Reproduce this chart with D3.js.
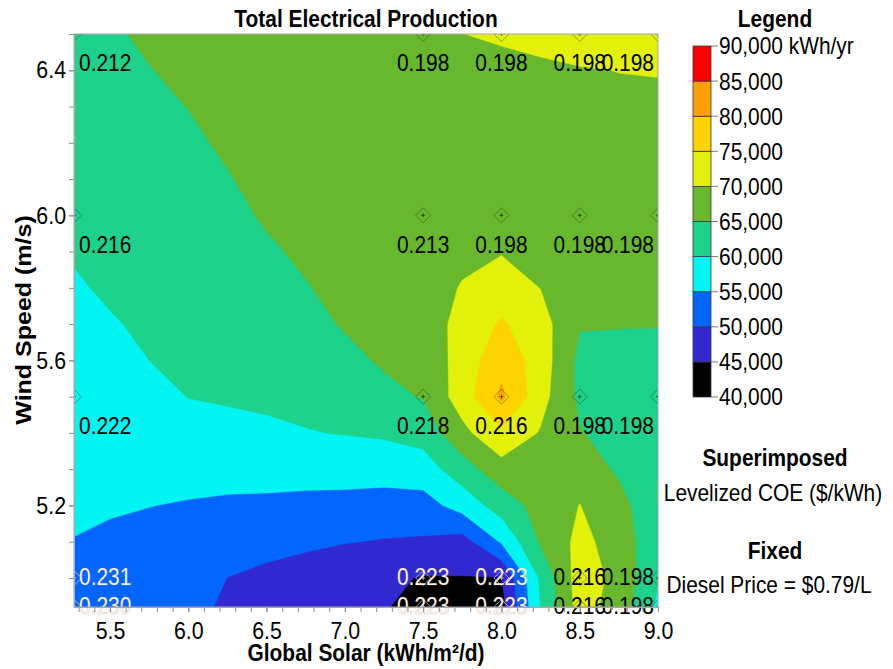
<!DOCTYPE html>
<html>
<head>
<meta charset="utf-8">
<script src="https://cdn.jsdelivr.net/npm/d3@7"></script>
<style>
  body { margin: 0; background: #fff; }
  text { font-family: "Liberation Sans", Arial, sans-serif; }
</style>
</head>
<body>
<svg id="chart" width="893" height="669"></svg>
<script>
// Sampling grid of the production surface
const solarGrid = [5.27, 5.5, 5.75, 6.0, 6.25, 6.5, 6.75, 7.0, 7.25, 7.5, 7.75, 8.0, 8.25, 8.5, 8.75, 9.0];
const windGrid = [4.92, 5.0, 5.1, 5.2, 5.3, 5.4, 5.5, 5.6, 5.7, 5.8, 5.9, 6.0, 6.1, 6.2, 6.3, 6.4, 6.5];

// Total electrical production (thousand kWh/yr); one row per wind speed (low to high),
// one column per global solar value
const production = [
  [53.0, 52.6, 51.6, 51.5, 49.2, 47.0, 46.0, 45.8, 45.3, 43.5, 43.5, 43.3, 60.0, 72.0, 68.0, 59.0],
  [53.8, 53.5, 52.6, 52.1, 49.95, 48.9, 47.9, 46.8, 45.9, 44.7, 44.8, 44.8, 60.8, 72.5, 68.6, 60.4],
  [54.9, 54.4, 53.8, 53.4, 52.1, 51.5, 50.85, 50.2, 49.7, 49.4, 48.0, 55.5, 65.5, 71.4, 67.8, 61.2],
  [55.6, 55.35, 55.07, 54.7, 54.3, 54.1, 53.8, 53.5, 53.2, 53.0, 57.0, 62.3, 66.8, 70.1, 66.5, 61.6],
  [56.3, 56.2, 56.3, 56.5, 56.6, 56.7, 56.7, 56.9, 56.8, 57.7, 62.7, 67.9, 68.0, 67.5, 64.3, 61.8],
  [56.9, 57.1, 57.5, 58.35, 58.9, 59.3, 59.8, 60.2, 60.7, 61.9, 68.6, 74.2, 69.6, 65.3, 63.0, 61.9],
  [57.6, 58.0, 58.8, 60.07, 60.4, 60.7, 61.15, 61.9, 63.7, 65.3, 72.5, 80.9, 71.8, 64.0, 62.5, 62.0],
  [58.3, 58.85, 60.0, 60.7, 61.1, 61.7, 62.4, 63.7, 65.6, 66.5, 72.0, 78.5, 72.6, 63.8, 63.0, 62.5],
  [58.9, 59.7, 60.6, 61.3, 61.85, 62.6, 63.6, 65.4, 66.2, 67.3, 71.6, 75.6, 72.0, 65.3, 65.3, 65.3],
  [59.6, 60.5, 61.2, 61.9, 62.6, 63.5, 64.8, 66.0, 66.8, 67.8, 70.3, 72.5, 69.9, 66.5, 66.5, 66.3],
  [60.3, 61.1, 61.8, 62.55, 63.3, 64.5, 65.6, 66.6, 67.3, 68.2, 68.9, 69.7, 68.6, 67.3, 67.3, 67.1],
  [60.9, 61.7, 62.45, 63.2, 64.05, 65.4, 66.2, 67.2, 67.8, 68.5, 68.3, 68.8, 68.2, 67.8, 67.9, 67.8],
  [61.4, 62.3, 63.1, 63.8, 64.8, 66.0, 66.8, 67.7, 68.2, 68.7, 68.0, 68.4, 68.2, 68.3, 68.4, 68.4],
  [61.9, 62.9, 63.7, 64.4, 65.5, 66.6, 67.4, 68.1, 68.5, 68.9, 68.2, 68.5, 68.5, 68.8, 68.9, 68.9],
  [62.4, 63.5, 64.3, 65.06, 66.0, 67.1, 67.9, 68.5, 68.8, 69.1, 68.8, 68.9, 69.0, 69.3, 69.4, 69.4],
  [62.9, 64.0, 64.9, 65.7, 66.5, 67.6, 68.4, 68.9, 69.1, 69.3, 69.4, 69.4, 69.6, 69.8, 70.05, 70.15],
  [63.4, 64.6, 65.5, 66.3, 67.0, 68.0, 68.8, 69.2, 69.4, 69.6, 69.98, 70.3, 70.7, 71.6, 71.8, 72.0]
];

// Legend bands (thousand kWh/yr) and their colours
const bandEdges = [40, 45, 50, 55, 60, 65, 70, 75, 80, 85, 90];
const bandColors = ["#000000", "#3029d2", "#0066ff", "#00f5f3", "#1dd28a", "#67b82d", "#e2f00a", "#fdd400", "#ffa000", "#ff0000"];

// Sensitivity cases with the superimposed levelized COE ($/kWh)
const sensSolar = [5.27, 7.5, 8.0, 8.5, 9.0];
const sensWind = [4.92, 5.0, 5.5, 6.0, 6.5];
const coe = [
  [0.230, 0.223, 0.223, 0.216, 0.198],
  [0.231, 0.223, 0.223, 0.216, 0.198],
  [0.222, 0.218, 0.216, 0.198, 0.198],
  [0.216, 0.213, 0.198, 0.198, 0.198],
  [0.212, 0.198, 0.198, 0.198, 0.198]
];

// Axis ticks
const solarTicks = [5.5, 6.0, 6.5, 7.0, 7.5, 8.0, 8.5, 9.0];
const solarMinor = d3.range(53, 91).map(d => d / 10);
const windTicks = [5.2, 5.6, 6.0, 6.4];
const windMinor = d3.range(50, 66).map(d => d / 10);

// ---------------------------------------------------------------------------
const svg = d3.select("#chart");
const HS = 0.89;         // horizontal squeeze of the lettering
const FS = 23.5;

const plotL = 74, plotR = 658, plotT = 34, plotB = 607;
const x = d3.scaleLinear().domain([5.27, 9.0]).range([plotL, plotR]);
const y = d3.scaleLinear().domain([4.92, 6.5]).range([plotB, plotT]);

function label(parent, px, py, str, o = {}) {
  const size = o.size || FS;
  const rot = o.rotate || 0;
  const sc = rot ? `scale(1,${HS})` : `scale(${HS},1)`;
  return parent.append("text")
    .attr("transform", `translate(${px},${py}) rotate(${rot}) ${sc}`)
    .attr("font-size", size)
    .attr("font-weight", o.weight || "normal")
    .attr("text-anchor", o.anchor || "start")
    .attr("fill", o.fill || "#000")
    .text(str);
}

svg.append("defs").append("clipPath").attr("id", "plotClip")
  .append("rect").attr("x", plotL).attr("y", plotT)
  .attr("width", plotR - plotL).attr("height", plotB - plotT);

// ---- filled contour bands
const nx = solarGrid.length, ny = windGrid.length;
const flat = [];
production.forEach(row => row.forEach(v => flat.push(v)));

const ix = d3.scaleLinear().domain(d3.range(nx)).range(solarGrid).clamp(true);
const iy = d3.scaleLinear().domain(d3.range(ny)).range(windGrid).clamp(true);
const gridPath = d3.geoPath(d3.geoTransform({
  point(gx, gy) {
    this.stream.point(x(ix(gx - 0.5)), y(iy(gy - 0.5)));
  }
}));

const bands = d3.contours().size([nx, ny]).thresholds(bandEdges.slice(0, -1))(flat);
const plot = svg.append("g").attr("clip-path", "url(#plotClip)");
plot.selectAll("path.band").data(bands).join("path")
  .attr("class", "band")
  .attr("d", gridPath)
  .attr("fill", (d, i) => bandColors[i])
  .attr("stroke", (d, i) => bandColors[i])
  .attr("stroke-width", 0.5);

// ---- sensitivity markers
const cases = [];
sensWind.forEach((w, r) => sensSolar.forEach((s, c) => {
  const v = production[windGrid.indexOf(w)][solarGrid.indexOf(s)];
  cases.push({ s, w, r, c, v, coe: coe[r][c] });
}));

const mk = plot.selectAll("g.mk").data(cases).join("g")
  .attr("class", "mk")
  .attr("transform", d => `translate(${x(d.s)},${y(d.w)})`);
mk.append("path")
  .attr("d", "M0,-7.5L7.5,0L0,7.5L-7.5,0Z")
  .attr("fill", "none")
  .attr("stroke", d => d.v < 55 ? "rgba(255,255,255,0.6)" : "rgba(20,40,20,0.4)")
  .attr("stroke-width", 1);
mk.append("path")
  .attr("d", "M-2,0H2M0,-2V2")
  .attr("stroke", d => d.v < 55 ? "rgba(255,255,255,0.7)" : "rgba(0,0,0,0.55)")
  .attr("stroke-width", 1);

// ---- COE labels
const labels = svg.append("g");
cases.forEach(d => {
  const px = x(d.s), py = y(d.w);
  const ty = (d.w >= 5.5 ? py + 29 : py - 1.5) + FS * 0.36;
  let anchor = "middle", tx = px;
  if (d.c === 0) { anchor = "start"; tx = px + 5; }
  if (d.c === sensSolar.length - 1) { anchor = "end"; tx = px - 4; }
  const t = label(labels, tx, ty, d3.format(".3f")(d.coe), {
    anchor, fill: d.v < 55 ? "#ffffff" : "#000000"
  });
  if (d.v < 55) t.attr("stroke", "rgba(190,140,100,0.55)").attr("stroke-width", 0.6);
});

// ---- frame and axes
svg.append("rect").attr("x", plotL).attr("y", plotT)
  .attr("width", plotR - plotL).attr("height", plotB - plotT)
  .attr("fill", "none").attr("stroke", "#a8a8a8").attr("stroke-width", 1);

const gx = svg.append("g").attr("transform", `translate(0,${plotB})`);
gx.call(d3.axisBottom(x).tickValues(solarMinor).tickFormat("").tickSize(5).tickSizeOuter(0));
gx.call(g => g.select(".domain").remove());
const gxMajor = svg.append("g").attr("transform", `translate(0,${plotB})`)
  .call(d3.axisBottom(x).tickValues(solarTicks).tickFormat(d3.format(".1f"))
    .tickSize(5).tickPadding(10).tickSizeOuter(0));

const gy = svg.append("g").attr("transform", `translate(${plotL},0)`);
gy.call(d3.axisLeft(y).tickValues(windMinor).tickFormat("").tickSize(5).tickSizeOuter(0));
gy.call(g => g.select(".domain").remove());
const gyMajor = svg.append("g").attr("transform", `translate(${plotL},0)`)
  .call(d3.axisLeft(y).tickValues(windTicks).tickFormat(d3.format(".1f"))
    .tickSize(5).tickPadding(3).tickSizeOuter(0));

svg.selectAll(".domain").attr("stroke", "#a8a8a8");
svg.selectAll(".tick line").attr("stroke", "#8c8c8c");
[gxMajor, gyMajor].forEach(g => g.selectAll("text")
  .attr("font-size", 24).attr("fill", "#000")
  .attr("font-family", "Liberation Sans, Arial, sans-serif")
  .attr("transform", `scale(${HS},1)`));
gyMajor.selectAll("text").attr("x", -8 / HS);

// ---- titles
label(svg, 366, 27, "Total Electrical Production", { anchor: "middle", weight: "bold" });
label(svg, 366, 661, "Global Solar (kWh/m²/d)", { anchor: "middle", weight: "bold" });
label(svg, 31, 320, "Wind Speed (m/s)", { anchor: "middle", weight: "bold", rotate: -90, size: 25 });

// ---- colour legend
const barX = 693, barW = 18;
const legY = d3.scaleLinear().domain([40, 90]).range([397, 46]);
const leg = svg.append("g");
label(leg, 775, 27, "Legend", { anchor: "middle", weight: "bold" });
leg.selectAll("rect.sw").data(bandColors).join("rect")
  .attr("class", "sw")
  .attr("x", barX).attr("width", barW)
  .attr("y", (c, i) => legY(bandEdges[i + 1]))
  .attr("height", (c, i) => legY(bandEdges[i]) - legY(bandEdges[i + 1]))
  .attr("fill", c => c)
  .attr("stroke", "#3a3a3a").attr("stroke-width", 0.8);
leg.selectAll("line.lt").data(bandEdges).join("line")
  .attr("class", "lt")
  .attr("x1", barX + barW).attr("x2", barX + barW + 7)
  .attr("y1", d => legY(d)).attr("y2", d => legY(d))
  .attr("stroke", "#7a7a7a");
bandEdges.forEach((e, i) => {
  const s = d3.format(",")(e * 1000) + (i === bandEdges.length - 1 ? " kWh/yr" : "");
  label(leg, 719, legY(e) + FS * 0.36, s);
});

// ---- superimposed and fixed variables
label(svg, 775, 466, "Superimposed", { anchor: "middle", weight: "bold" });
label(svg, 773, 501, "Levelized COE ($/kWh)", { anchor: "middle" });
label(svg, 775, 559, "Fixed", { anchor: "middle", weight: "bold" });
label(svg, 769, 593, "Diesel Price = $0.79/L", { anchor: "middle" });
</script>
</body>
</html>
